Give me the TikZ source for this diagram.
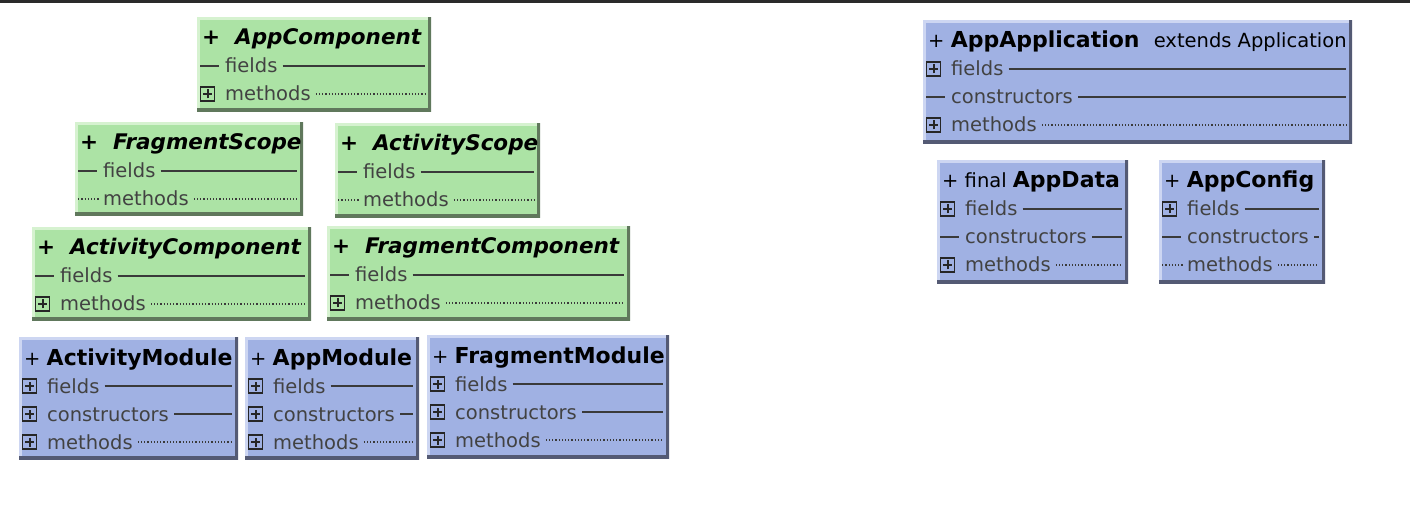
\documentclass[tikz,border=0pt]{standalone}
\usepackage{fontspec}
\setmainfont{DejaVu Sans}[ItalicFont={DejaVu Sans Oblique},BoldFont={DejaVu Sans Bold},BoldItalicFont={DejaVu Sans Bold Oblique}]
\usetikzlibrary{calc,positioning}

\definecolor{cardgreen}{RGB}{172,227,165}
\definecolor{cardgreenlight}{RGB}{214,242,208}
\definecolor{cardgreendark}{RGB}{96,120,92}
\definecolor{cardblue}{RGB}{160,177,227}
\definecolor{cardbluelight}{RGB}{205,214,242}
\definecolor{cardbluedark}{RGB}{84,90,116}
\definecolor{rulegray}{RGB}{58,58,58}
\definecolor{labelgray}{RGB}{66,66,66}
\definecolor{topbar}{RGB}{42,42,42}

\newcommand{\classname}[1]{{\fontsize{22}{25}\selectfont\bfseries #1}}

\tikzset{card/.style n args={3}{
       rectangle,
       anchor=north west,
       inner sep=0,
       fill=#1,
       path picture={
         \draw[#2, line width=5pt] (path picture bounding box.south west) -- (path picture bounding box.north west) -- (path picture bounding box.north east);
         \draw[#3, line width=6pt] (path picture bounding box.north east) -- (path picture bounding box.south east) -- (path picture bounding box.south west);
       }
     },
     greencard/.style={card={cardgreen}{cardgreenlight}{cardgreendark}},
     bluecard/.style={card={cardblue}{cardbluelight}{cardbluedark}},
     cardtitle/.style={
       anchor=base west,
       inner sep=0,
       font=\fontsize{19.5}{22}\selectfont
     },
     ifacetitle/.style={cardtitle, font=\fontsize{21.5}{24}\selectfont\bfseries\itshape},
     rowlabel/.style={
       anchor=base west,
       inner sep=0,
       text=labelgray,
       font=\fontsize{19.5}{22}\selectfont
     },
     solidrule/.style={draw=rulegray, line width=1.8pt},
     dotrule/.style={draw=rulegray, line width=1.2pt, dotted},
     plus mark/.style={
       draw=black!85,
       line width=1.4pt,
       minimum size=14pt,
       inner sep=0,
       path picture={
         \draw[line width=1.8pt] ([xshift=-4.5pt]path picture bounding box.center) -- ([xshift=4.5pt]path picture bounding box.center)
                                 ([yshift=-4.5pt]path picture bounding box.center) -- ([yshift=4.5pt]path picture bounding box.center);
       }
     },
     dash mark/.style={minimum width=19pt, minimum height=1.8pt, inner sep=0, fill=rulegray},
     dots mark/.style={
       minimum width=21pt,
       minimum height=2pt,
       inner sep=0,
       path picture={\draw[dotrule] (path picture bounding box.west) -- (path picture bounding box.east);}
     }
}

% rows of a class card: marker/label/rule
\newcommand{\cardrows}[2]{%
  \foreach \rmark/\rtext/\rline [count=\ri] in {#2} {
    \node[\rmark\space mark, anchor=west] (#1-mark\ri) at ([xshift=3pt,yshift={-21pt-28pt*\ri}]#1.north west) {};
    \node[rowlabel] (#1-row\ri) at ([xshift=28pt,yshift={-28pt-28pt*\ri}]#1.north west) {\rtext};
    \draw[\rline] ([xshift=5pt]#1-row\ri.east |- #1-mark\ri) -- ([xshift=-6pt]#1.east |- #1-mark\ri);
  }}

\begin{document}
\begin{tikzpicture}[x=1pt, y=-1pt]
    \useasboundingbox (0,0) rectangle (1410,526);
    \fill[topbar] (0,0) rectangle (1410,3.5);

    % interfaces
    \node[greencard, minimum width=234pt, minimum height=94pt] (appcomponent) at (197,17) {};
    \node[ifacetitle] (appcomponent-title) at ([xshift=5pt,yshift=-28pt]appcomponent.north west) {+\ \ AppComponent};
    \cardrows{appcomponent}{dash/fields/solidrule, plus/methods/dotrule}

    \node[greencard, minimum width=228pt, minimum height=93pt] (fragmentscope) at (75,122) {};
    \node[ifacetitle] (fragmentscope-title) at ([xshift=5pt,yshift=-28pt]fragmentscope.north west) {+\ \ FragmentScope};
    \cardrows{fragmentscope}{dash/fields/solidrule, dots/methods/dotrule}

    \node[greencard, minimum width=205pt, minimum height=94pt] (activityscope) at (335,123) {};
    \node[ifacetitle] (activityscope-title) at ([xshift=5pt,yshift=-28pt]activityscope.north west) {+\ \ ActivityScope};
    \cardrows{activityscope}{dash/fields/solidrule, dots/methods/dotrule}

    \node[greencard, minimum width=279pt, minimum height=93pt] (activitycomponent) at (32,227) {};
    \node[ifacetitle] (activitycomponent-title) at ([xshift=5pt,yshift=-28pt]activitycomponent.north west) {+\ \ ActivityComponent};
    \cardrows{activitycomponent}{dash/fields/solidrule, plus/methods/dotrule}

    \node[greencard, minimum width=303pt, minimum height=94pt] (fragmentcomponent) at (327,226) {};
    \node[ifacetitle] (fragmentcomponent-title) at ([xshift=5pt,yshift=-28pt]fragmentcomponent.north west) {+\ \ FragmentComponent};
    \cardrows{fragmentcomponent}{dash/fields/solidrule, plus/methods/dotrule}

    % modules
    \node[bluecard, minimum width=219pt, minimum height=122pt] (activitymodule) at (19,337) {};
    \node[cardtitle] (activitymodule-title) at ([xshift=5pt,yshift=-28pt]activitymodule.north west) {+ \classname{ActivityModule}};
    \cardrows{activitymodule}{plus/fields/solidrule, plus/constructors/solidrule, plus/methods/dotrule}

    \node[bluecard, minimum width=174pt, minimum height=122pt] (appmodule) at (245,337) {};
    \node[cardtitle] (appmodule-title) at ([xshift=5pt,yshift=-28pt]appmodule.north west) {+ \classname{AppModule}};
    \cardrows{appmodule}{plus/fields/solidrule, plus/constructors/solidrule, plus/methods/dotrule}

    \node[bluecard, minimum width=242pt, minimum height=123pt] (fragmentmodule) at (427,335) {};
    \node[cardtitle] (fragmentmodule-title) at ([xshift=5pt,yshift=-28pt]fragmentmodule.north west) {+ \classname{FragmentModule}};
    \cardrows{fragmentmodule}{plus/fields/solidrule, plus/constructors/solidrule, plus/methods/dotrule}

    % application classes
    \node[bluecard, minimum width=429pt, minimum height=123pt] (appapplication) at (923,20) {};
    \node[cardtitle] (appapplication-title) at ([xshift=5pt,yshift=-28pt]appapplication.north west) {+ \classname{AppApplication}\hspace{8pt} extends Application};
    \cardrows{appapplication}{plus/fields/solidrule, dash/constructors/solidrule, plus/methods/dotrule}

    \node[bluecard, minimum width=191pt, minimum height=123pt] (appdata) at (937,160) {};
    \node[cardtitle] (appdata-title) at ([xshift=5pt,yshift=-28pt]appdata.north west) {+ final \classname{AppData}};
    \cardrows{appdata}{plus/fields/solidrule, dash/constructors/solidrule, plus/methods/dotrule}

    \node[bluecard, minimum width=166pt, minimum height=123pt] (appconfig) at (1159,160) {};
    \node[cardtitle] (appconfig-title) at ([xshift=5pt,yshift=-28pt]appconfig.north west) {+ \classname{AppConfig}};
    \cardrows{appconfig}{plus/fields/solidrule, dash/constructors/solidrule, dots/methods/dotrule}
\end{tikzpicture}
\end{document}
